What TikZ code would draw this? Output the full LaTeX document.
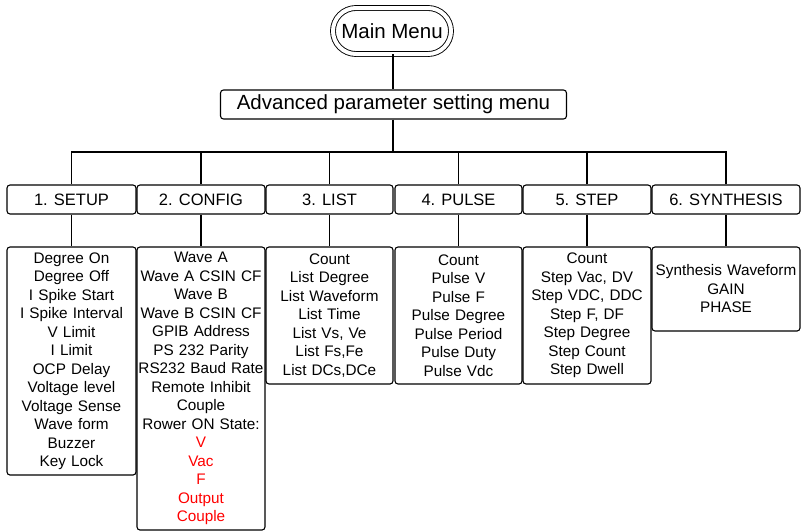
\documentclass[tikz,border=0pt]{standalone}
\usepackage{fontspec}
\setmainfont{Liberation Sans}
\begin{document}
\begin{tikzpicture}[x=1pt,y=-1pt,line width=1.1pt,
  catbox/.style={draw,rounded corners=3pt,minimum height=29pt,inner sep=0pt,
    font=\fontsize{16.5}{19}\selectfont},
  listbox/.style={draw,rounded corners=3pt,inner sep=0pt,align=center,
    font=\fontsize{15.3}{18.5}\selectfont},
  link/.style={line width=1.1pt}]
\useasboundingbox (0,0) rectangle (801,531);
% top
\node[draw,double,double distance=4pt,line width=0.9pt,minimum width=118pt,minimum height=46pt,
  rounded corners=23pt,inner sep=0pt,font=\fontsize{20.5}{24}\selectfont] (main) at (392,31) {Main Menu};
\node[draw,rounded corners=3pt,minimum width=346pt,minimum height=29pt,inner sep=0pt,
  font=\fontsize{20.5}{24}\selectfont] (adv) at (393.5,104.5) {Advanced parameter setting menu};
\coordinate (bar) at (393,152);
% categories
\node[catbox,minimum width=129pt] (c1) at (71.5,199.5) {1. SETUP};
\node[catbox,minimum width=128pt] (c2) at (201,199.5) {2. CONFIG};
\node[catbox,minimum width=127pt] (c3) at (329.5,199.5) {3. LIST};
\node[catbox,minimum width=127pt] (c4) at (458.5,199.5) {4. PULSE};
\node[catbox,minimum width=128pt] (c5) at (587,199.5) {5. STEP};
\node[catbox,minimum width=148pt] (c6) at (726,199.5) {6. SYNTHESIS};
% lists
\node[listbox,minimum width=129pt,text width=127pt,minimum height=228pt] (b1) at (71.5,361)
 {Degree On\\Degree Off\\I Spike Start\\I Spike Interval\\V Limit\\I Limit\\OCP Delay\\Voltage level\\Voltage Sense\\Wave form\\Buzzer\\Key Lock};
\node[listbox,minimum width=128pt,text width=126pt,minimum height=283pt] (b2) at (201,388.5)
 {Wave A\\Wave A CSIN CF\\Wave B\\Wave B CSIN CF\\GPIB Address\\PS 232 Parity\\RS232 Baud Rate\\Remote Inhibit\\Couple\\Rower ON State:\\\textcolor{red}{V}\\\textcolor{red}{Vac}\\\textcolor{red}{F}\\\textcolor{red}{Output}\\\textcolor{red}{Couple}};
\node[listbox,minimum width=127pt,text width=125pt,minimum height=137pt] (b3) at (329.5,315.5)
 {Count\\List Degree\\List Waveform\\List Time\\List Vs, Ve\\List Fs,Fe\\List DCs,DCe};
\node[listbox,minimum width=127pt,text width=125pt,minimum height=137pt] (b4) at (458.5,315.5)
 {Count\\Pulse V\\Pulse F\\Pulse Degree\\Pulse Period\\Pulse Duty\\Pulse Vdc};
\node[listbox,minimum width=128pt,text width=126pt,minimum height=137pt] (b5) at (587,315.5)
 {Count\\Step Vac, DV\\Step VDC, DDC\\Step F, DF\\Step Degree\\Step Count\\Step Dwell};
\node[listbox,minimum width=148pt,text width=146pt,minimum height=84pt] (b6) at (726,289)
 {Synthesis Waveform\\GAIN\\PHASE};
% connectors
\draw[link] (main.south -| bar) -- (adv.north -| bar);
\draw[link] (adv.south -| bar) -- (bar);
\foreach \i in {1,...,6}{
  \draw[link] (c\i.north) |- (bar);
  \draw[link] (c\i.south) -- (b\i.north);
}
\end{tikzpicture}
\end{document}
